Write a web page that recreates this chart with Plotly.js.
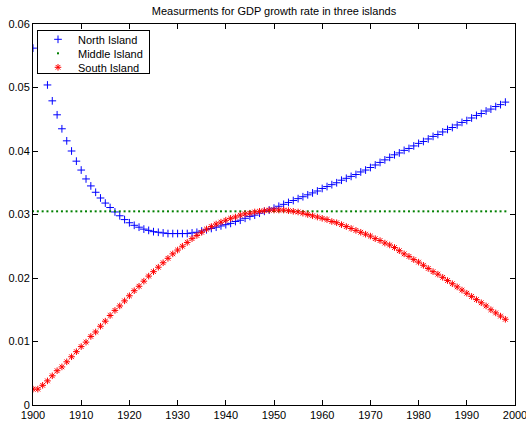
<!DOCTYPE html>
<html>
<head>
<meta charset="utf-8">
<script src="https://cdn.plot.ly/plotly-3.0.1.min.js"></script>
<style>html,body{margin:0;padding:0;background:#fff;}#chart{width:526px;height:425px;}</style>
</head>
<body>
<div id="chart"></div>
<script>
var years = [1900,1901,1902,1903,1904,1905,1906,1907,1908,1909,
1910,1911,1912,1913,1914,1915,1916,1917,1918,1919,
1920,1921,1922,1923,1924,1925,1926,1927,1928,1929,
1930,1931,1932,1933,1934,1935,1936,1937,1938,1939,
1940,1941,1942,1943,1944,1945,1946,1947,1948,1949,
1950,1951,1952,1953,1954,1955,1956,1957,1958,1959,
1960,1961,1962,1963,1964,1965,1966,1967,1968,1969,
1970,1971,1972,1973,1974,1975,1976,1977,1978,1979,
1980,1981,1982,1983,1984,1985,1986,1987,1988,1989,
1990,1991,1992,1993,1994,1995,1996,1997,1998];

// 1901 is not visible in the reference (hidden behind the legend), so it is left empty
var northIsland = [0.0562,null,0.0532,0.0504,0.0479,0.0457,0.0435,0.0416,0.0400,0.0384,
0.0370,0.0356,0.0345,0.0335,0.0326,0.0318,0.0311,0.0304,0.0298,0.0292,
0.0287,0.0283,0.0280,0.0277,0.0275,0.0273,0.0272,0.0271,0.0270,0.0270,
0.0270,0.0270,0.0270,0.0271,0.0272,0.0274,0.0276,0.0278,0.0280,0.0282,
0.0284,0.0286,0.0289,0.0291,0.0294,0.0297,0.0299,0.0302,0.0305,0.0307,
0.0310,0.0313,0.0316,0.0319,0.0322,0.0325,0.0328,0.0331,0.0334,0.0337,
0.0341,0.0344,0.0347,0.0350,0.0354,0.0357,0.0360,0.0363,0.0367,0.0370,
0.0374,0.0378,0.0382,0.0386,0.0390,0.0394,0.0397,0.0401,0.0404,0.0408,
0.0412,0.0415,0.0419,0.0423,0.0426,0.0430,0.0434,0.0437,0.0441,0.0445,
0.0448,0.0452,0.0456,0.0459,0.0463,0.0466,0.0470,0.0473,0.0477];

var middleIsland = [0.0305,0.0305,0.0305,0.0305,0.0305,0.0305,0.0305,0.0305,0.0305,0.0305,
0.0305,0.0305,0.0305,0.0305,0.0305,0.0305,0.0305,0.0305,0.0305,0.0305,
0.0305,0.0305,0.0305,0.0305,0.0305,0.0305,0.0305,0.0305,0.0305,0.0305,
0.0305,0.0305,0.0305,0.0305,0.0305,0.0305,0.0305,0.0305,0.0305,0.0305,
0.0305,0.0305,0.0305,0.0305,0.0305,0.0305,0.0305,0.0305,0.0305,0.0305,
0.0305,0.0305,0.0305,0.0305,0.0305,0.0305,0.0305,0.0305,0.0305,0.0305,
0.0305,0.0305,0.0305,0.0305,0.0305,0.0305,0.0305,0.0305,0.0305,0.0305,
0.0305,0.0305,0.0305,0.0305,0.0305,0.0305,0.0305,0.0305,0.0305,0.0305,
0.0305,0.0305,0.0305,0.0305,0.0305,0.0305,0.0305,0.0305,0.0305,0.0305,
0.0305,0.0305,0.0305,0.0305,0.0305,0.0305,0.0305,0.0305,0.0305];

var southIsland = [0.0025,0.0025,0.0031,0.0038,0.0046,0.0054,0.0060,0.0068,0.0076,0.0084,
0.0092,0.0099,0.0108,0.0115,0.0124,0.0132,0.0141,0.0149,0.0156,0.0164,
0.0172,0.0180,0.0187,0.0195,0.0203,0.0210,0.0217,0.0224,0.0231,0.0238,
0.0244,0.0250,0.0256,0.0262,0.0267,0.0272,0.0277,0.0281,0.0285,0.0288,
0.0291,0.0294,0.0296,0.0299,0.0301,0.0302,0.0304,0.0305,0.0306,0.0307,
0.0307,0.0307,0.0307,0.0306,0.0305,0.0304,0.0302,0.0300,0.0298,0.0296,
0.0294,0.0292,0.0289,0.0287,0.0284,0.0281,0.0278,0.0275,0.0272,0.0269,
0.0266,0.0262,0.0259,0.0255,0.0252,0.0248,0.0243,0.0238,0.0234,0.0229,
0.0225,0.0220,0.0215,0.0210,0.0206,0.0201,0.0196,0.0191,0.0186,0.0181,
0.0176,0.0171,0.0166,0.0161,0.0156,0.0150,0.0145,0.0140,0.0135];

var seriesNames = ['North Island', 'Middle Island', 'South Island'];
var xTicks = [1900,1910,1920,1930,1940,1950,1960,1970,1980,1990,2000];
var yTicks = [0,0.01,0.02,0.03,0.04,0.05,0.06];
var yTickLabels = ['0','0.01','0.02','0.03','0.04','0.05','0.06'];

var FONT = 'Liberation Sans, Arial, Helvetica, sans-serif';

var traces = [
  {x: years, y: northIsland, name: seriesNames[0], type: 'scatter', mode: 'markers',
   marker: {symbol: 'cross-thin', size: 5.5, color: '#0000ff', line: {color: '#0000ff', width: 1}}},
  {x: years, y: middleIsland, name: seriesNames[1], type: 'scatter', mode: 'markers',
   marker: {symbol: 'square', size: 2, color: '#008000', line: {width: 0}}},
  {x: years, y: southIsland, name: seriesNames[2], type: 'scatter', mode: 'markers',
   marker: {symbol: 'asterisk-open', size: 5.5, color: '#ff0000', line: {color: '#ff0000', width: 1}}}
];

var axisCommon = {
  showgrid: false, zeroline: false, showline: true, linecolor: '#000', linewidth: 1,
  mirror: 'ticks', ticks: 'inside', ticklen: 5, tickwidth: 1, tickcolor: '#000',
  ticklabeloverflow: 'allow',
  tickfont: {family: FONT, size: 11, color: '#000'}
};

var layout = {
  width: 526, height: 425,
  margin: {l: 33, r: 11, t: 24, b: 20, pad: 0},
  paper_bgcolor: '#fff', plot_bgcolor: '#fff',
  font: {family: FONT, size: 11, color: '#000'},
  title: {text: 'Measurments for GDP growth rate in three islands',
          font: {family: FONT, size: 11, color: '#000'},
          x: 0.5, xref: 'paper', xanchor: 'center', y: 1 - 11/425, yref: 'container', yanchor: 'middle'},
  xaxis: Object.assign({}, axisCommon, {range: [1900, 2000], tickvals: xTicks, ticktext: xTicks.map(String)}),
  yaxis: Object.assign({}, axisCommon, {range: [0, 0.06], tickvals: yTicks, ticktext: yTickLabels}),
  showlegend: true,
  legend: {x: 0.0083, y: 0.984, xanchor: 'left', yanchor: 'top', bgcolor: '#fff',
           bordercolor: '#000', borderwidth: 1, font: {family: FONT, size: 11, color: '#000'},
           tracegroupgap: 0, itemwidth: 30}
};

Plotly.newPlot('chart', traces, layout, {displayModeBar: false, staticPlot: true}).then(function (gd) {
  // compact the legend rows to the reference's 14px spacing
  var leg = gd.querySelector('g.legend');
  if (!leg) return;
  var bg = leg.querySelector('rect.bg');
  var bgBox = bg.getBoundingClientRect();
  var items = leg.querySelectorAll('g.traces');
  items.forEach(function (g, i) {
    var t = g.querySelector('text.legendtext');
    if (!t) return;
    var tb = t.getBoundingClientRect();
    var cur = tb.top + tb.height / 2;
    var want = bgBox.top + 9 + 14 * i;
    var tr = g.getAttribute('transform') || 'translate(0,0)';
    var m = /translate\(\s*([-\d.e]+)[ ,]+([-\d.e]+)\s*\)/.exec(tr);
    var x = m ? parseFloat(m[1]) : 0, y = m ? parseFloat(m[2]) : 0;
    g.setAttribute('transform', 'translate(' + x + ',' + (y + want - cur) + ')');
  });
  bg.setAttribute('height', 43);
  bg.setAttribute('width', 112);
});
</script>
</body>
</html>
